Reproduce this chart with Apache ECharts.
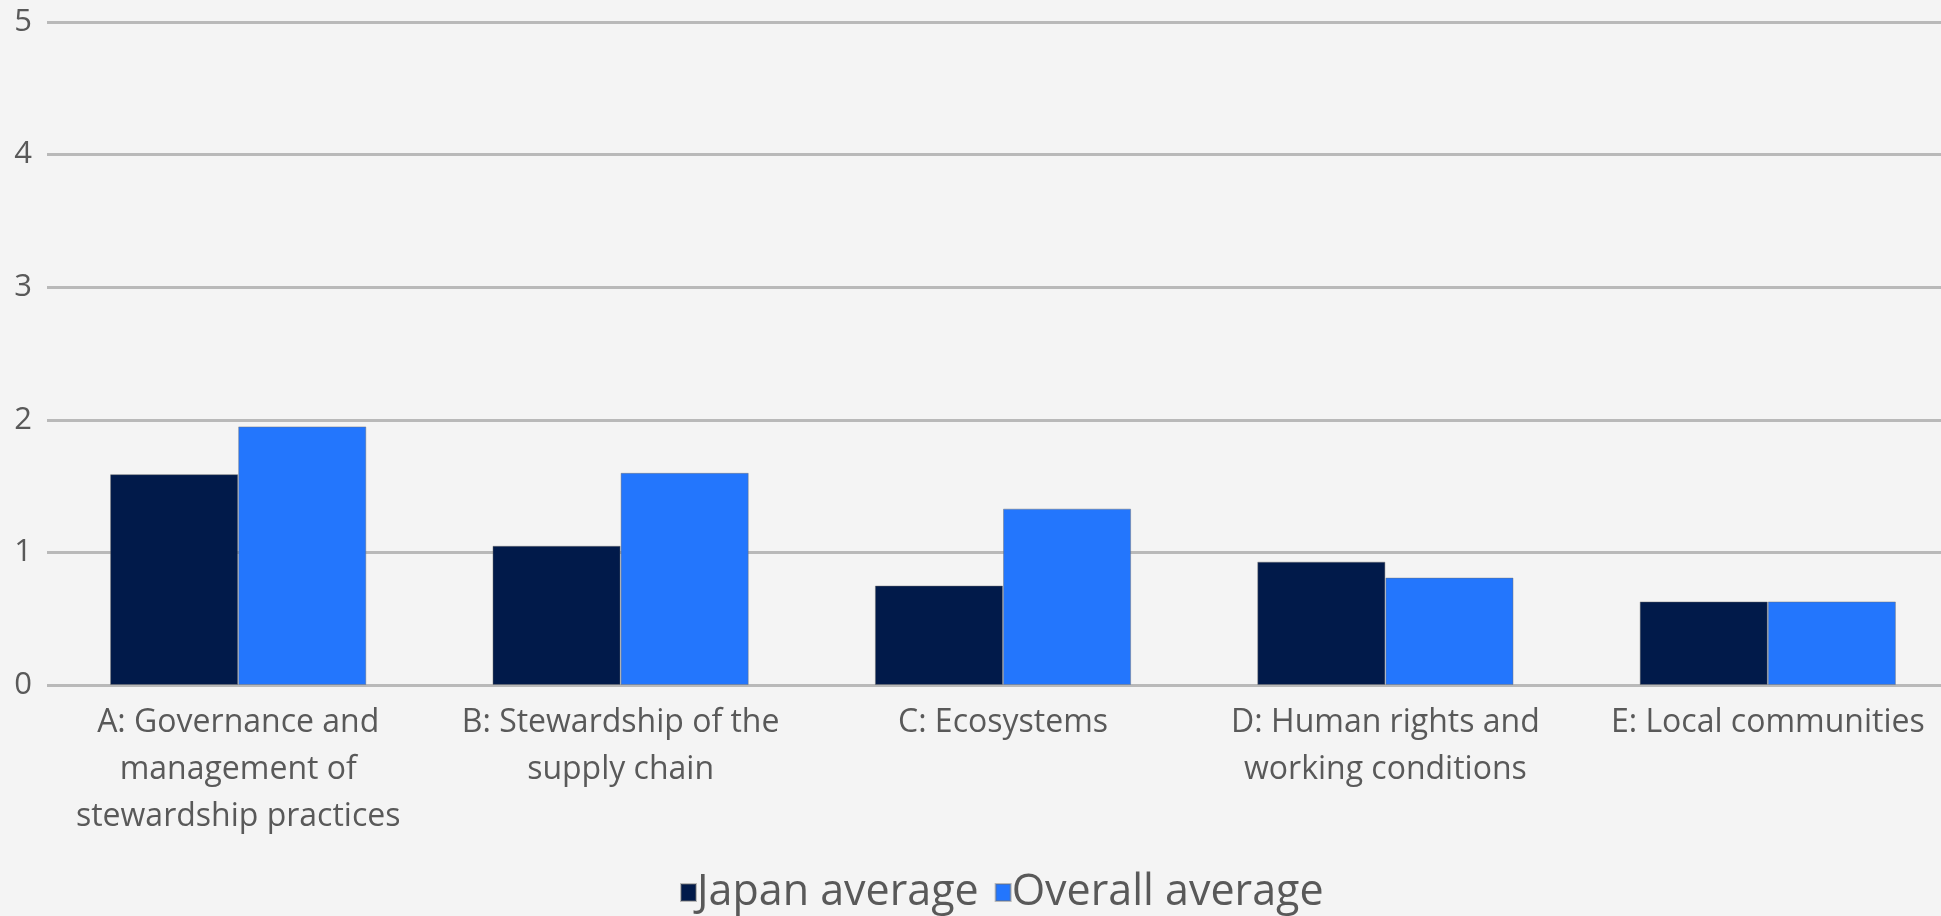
<!DOCTYPE html>
<html>
<head>
<meta charset="utf-8">
<script src="https://cdn.jsdelivr.net/npm/echarts@6/dist/echarts.min.js"></script>
<style>
  html, body { margin: 0; padding: 0; background: #f4f4f4; }
  #chart { width: 1941px; height: 916px; }
</style>
</head>
<body>
<div id="chart"></div>
<script>
const categories = [
    'A: Governance and\nmanagement of\nstewardship practices',
    'B: Stewardship of the\nsupply chain',
    'C: Ecosystems',
    'D: Human rights and\nworking conditions',
    'E: Local communities'
];
const seriesNames = ['Japan average', 'Overall average'];
const japanAvg = [1.59, 1.05, 0.75, 0.93, 0.63];
const overallAvg = [1.95, 1.60, 1.33, 0.81, 0.63];
const yTicks = [0, 1, 2, 3, 4, 5];

const textColor = '#595959';
const font = '"Open Sans", "Noto Sans", sans-serif';

const option = {
    backgroundColor: '#f4f4f4',
    animation: false,
    textStyle: { fontFamily: font },
    grid: {
        left: 47,
        width: 1912,
        top: 22,
        bottom: 231,
        containLabel: false,
        outerBoundsMode: 'none'
    },
    legend: {
        bottom: -3,
        left: 675,
        itemWidth: 15,
        itemHeight: 17,
        itemGap: 16,
        icon: 'rect',
        textStyle: {
            color: textColor,
            fontSize: 43,
            fontFamily: font,
            padding: [0, 0, 0, -4]
        },
        data: seriesNames
    },
    xAxis: {
        type: 'category',
        data: categories,
        axisLine: { show: false },
        axisTick: { show: false },
        axisLabel: {
            color: textColor,
            fontSize: 32,
            lineHeight: 47,
            margin: 14,
            interval: 0
        }
    },
    yAxis: {
        type: 'value',
        min: yTicks[0],
        max: yTicks[yTicks.length - 1],
        interval: 1,
        axisLine: { show: false },
        axisTick: { show: false },
        axisLabel: {
            color: textColor,
            fontSize: 31,
            margin: 15
        },
        splitLine: {
            lineStyle: { color: '#b9b9b9', width: 3 }
        }
    },
    series: [
        {
            name: seriesNames[0],
            type: 'bar',
            data: japanAvg,
            barGap: '0%',
            barCategoryGap: '33%',
            itemStyle: { color: '#011a4a', borderColor: 'rgba(110,110,110,0.45)', borderWidth: 1 }
        },
        {
            name: seriesNames[1],
            type: 'bar',
            data: overallAvg,
            barGap: '0%',
            barCategoryGap: '33%',
            itemStyle: { color: '#2376fd', borderColor: 'rgba(110,110,110,0.45)', borderWidth: 1 }
        }
    ]
};

const myChart = echarts.init(document.getElementById('chart'));
myChart.setOption(option);
window.onresize = function () {
    myChart.resize();
};
</script>
</body>
</html>
